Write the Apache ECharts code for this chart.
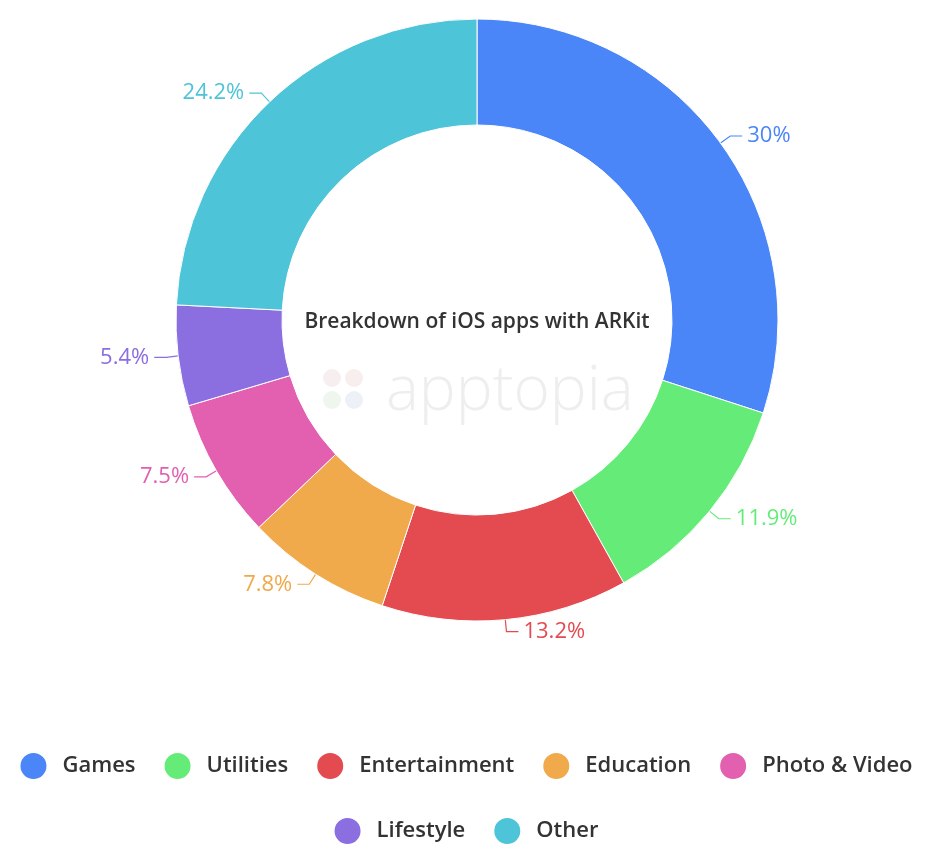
<!DOCTYPE html>
<html><head><meta charset="utf-8">
<script src="https://cdn.jsdelivr.net/npm/echarts@6/dist/echarts.min.js"></script>
<style>html,body{margin:0;padding:0;background:#fff}#c{width:931px;height:858px}</style>
</head><body><div id="c"></div>
<script>
const categories = ["Games","Utilities","Entertainment","Education","Photo & Video","Lifestyle","Other"];
const shares = [30, 11.9, 13.2, 7.8, 7.5, 5.4, 24.2];
const colors = ["#4a86f8","#65ec78","#e34b50","#f0a94b","#e35fb0","#8b6ee0","#4ec4d8"];
const centerTitle = "Breakdown of iOS apps with ARKit";
const watermark = "apptopia";

const chart = echarts.init(document.getElementById('c'));
const font = '"Open Sans", Roboto, sans-serif';
chart.setOption({
  backgroundColor: '#ffffff',
  color: colors,
  graphic: [
    {type:'text', z: 0, style:{text: watermark, x: 386, y: 392, fill:'#eeeeee', font:'300 62px ' + font, textAlign:'left', textVerticalAlign:'middle'}},
    {type:'circle', z:0, shape:{cx:332, cy:378, r:9}, style:{fill:'#f7eef0'}},
    {type:'circle', z:0, shape:{cx:354, cy:378, r:9}, style:{fill:'#f8eeee'}},
    {type:'circle', z:0, shape:{cx:332, cy:400, r:9}, style:{fill:'#eef6ee'}},
    {type:'circle', z:0, shape:{cx:354, cy:400, r:9}, style:{fill:'#eef0f8'}},
    {type:'text', z: 10, style:{text: centerTitle, x: 477, y: 322, fill:'#333', font:'600 21px ' + font, textAlign:'center', textVerticalAlign:'middle'}}
  ],
  legend: [
    {data: categories.slice(0,5), left: 'center', top: 746, icon: 'circle', itemWidth: 28, itemHeight: 28, itemGap: 27,
     textStyle:{fontSize: 22, fontWeight: 600, color:'#333', fontFamily: font, padding:[0,0,0,10]}},
    {data: categories.slice(5), left: 'center', top: 811, icon: 'circle', itemWidth: 28, itemHeight: 28, itemGap: 27,
     textStyle:{fontSize: 22, fontWeight: 600, color:'#333', fontFamily: font, padding:[0,0,0,10]}}
  ],
  series: [{
    type: 'pie',
    center: [477, 320],
    radius: [195, 301],
    startAngle: 90,
    clockwise: true,
    avoidLabelOverlap: true,
    itemStyle: {borderColor: '#fff', borderWidth: 1},
    label: {show: true, position: 'outside', formatter: '{c}%', fontSize: 22, fontFamily: font, color: 'inherit'},
    labelLine: {show: true, length: 12, length2: 12, lineStyle:{width:1.2}},
    emphasis: {disabled: true},
    data: categories.map((n,i)=>({name:n, value:shares[i], label:{color:colors[i]}}))
  }]
});
</script></body></html>
